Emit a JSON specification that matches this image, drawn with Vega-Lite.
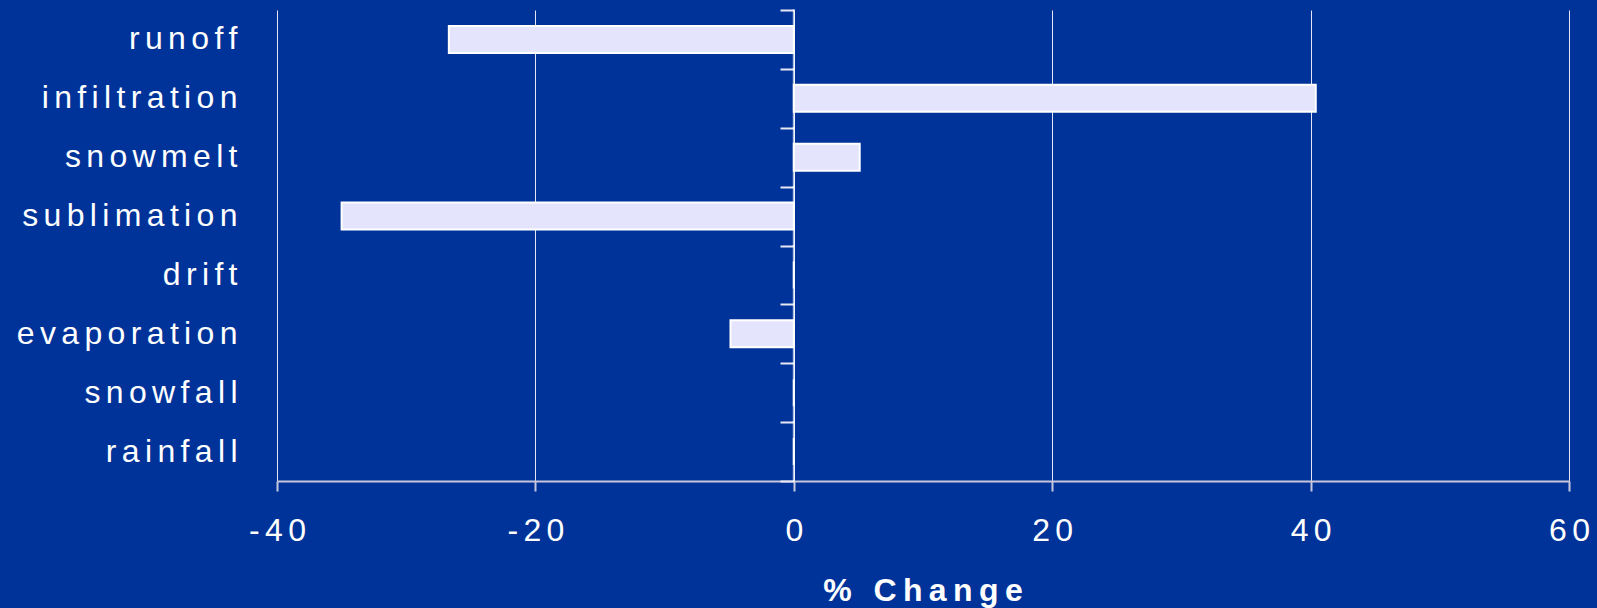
{
  "$schema": "https://vega.github.io/schema/vega-lite/v6.json",
  "width": 1292,
  "height": 471,
  "autosize": "none",
  "padding": {"left": 277, "top": 10, "right": 28, "bottom": 127},
  "background": "#003399",
  "config": {"view": {"stroke": null}, "font": "Liberation Sans"},
  "title": {
    "text": {"expr": "replace('% Change', regexp('(.)(?!$)', 'g'), '$1\u2009')"},
    "orient": "bottom",
    "anchor": "middle",
    "fontSize": 32,
    "fontWeight": "bold",
    "color": "white",
    "font": "Liberation Sans",
    "offset": 30
  },
  "data": {
    "values": [
      {"process": "runoff", "change": -26.7},
      {"process": "infiltration", "change": 40.4},
      {"process": "snowmelt", "change": 5.1},
      {"process": "sublimation", "change": -35.0},
      {"process": "drift", "change": 0},
      {"process": "evaporation", "change": -4.9},
      {"process": "snowfall", "change": 0},
      {"process": "rainfall", "change": 0}
    ]
  },
  "layer": [
    {
      "mark": {"type": "tick", "color": "white", "thickness": 2, "size": 60},
      "encoding": {
        "x": {"datum": 0, "type": "quantitative"},
        "y": {
          "field": "process",
          "type": "nominal",
          "sort": null,
          "scale": {"paddingInner": 0, "paddingOuter": 0},
          "axis": {
            "orient": "left",
            "offset": -517,
            "labels": false,
            "domain": false,
            "ticks": true,
            "tickBand": "extent",
            "tickSize": 14,
            "tickColor": "#e8e8f4",
            "tickWidth": 2,
            "grid": false,
            "title": null
          }
        }
      }
    },
    {
      "mark": {"type": "bar", "fill": "#E4E4FC", "stroke": "white", "strokeWidth": 2},
      "encoding": {
        "y": {
          "field": "process",
          "type": "nominal",
          "sort": null,
          "scale": {"paddingInner": 0.54, "paddingOuter": 0.27},
          "axis": {
            "orient": "left",
            "title": null,
            "domain": false,
            "ticks": false,
            "grid": false,
            "labelPadding": 40,
            "labelLimit": 0,
            "labelFontSize": 32,
            "labelColor": "white",
            "labelFont": "Liberation Sans",
            "labelExpr": "replace(datum.label, regexp('(.)(?!$)', 'g'), '$1\u200a\u200a')"
          }
        },
        "x": {
          "field": "change",
          "type": "quantitative",
          "scale": {"domain": [-40, 60], "nice": false},
          "axis": {
            "title": null,
            "values": [-40, -20, 0, 20, 40, 60],
            "grid": true,
            "gridColor": "#e4e4f4",
            "gridWidth": 1,
            "domainColor": "#c8c8dc",
            "domainWidth": 2,
            "tickColor": "#c8c8dc",
            "tickSize": 10,
            "tickWidth": 2,
            "labelFlush": false,
            "labelFontSize": 32,
            "labelColor": "white",
            "labelFont": "Liberation Sans",
            "labelPadding": 24,
            "labelExpr": "replace(toString(datum.value), regexp('(.)(?!$)', 'g'), '$1\u200a\u200a')"
          }
        }
      }
    }
  ],
  "resolve": {"scale": {"y": "independent"}, "axis": {"y": "independent"}}
}
